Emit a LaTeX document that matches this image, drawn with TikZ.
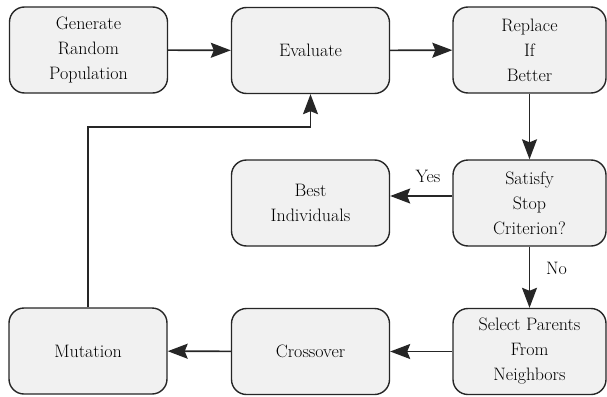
\documentclass[tikz,border=0pt]{standalone}
\usetikzlibrary{arrows.meta}
\definecolor{boxfill}{HTML}{F1F1F1}
\definecolor{boxline}{HTML}{262626}
\begin{document}
\begin{tikzpicture}[x=1pt,y=-1pt,
  box/.style={draw=boxline, fill=boxfill, line width=1.4pt, rounded corners=15pt,
    minimum width=158pt, minimum height=86pt, align=center,
    font=\fontsize{18}{25}\selectfont, inner sep=0pt},
  rbox/.style={box, minimum width=153pt},
  arr/.style={draw=boxline, line width=1.6pt, -{Stealth[length=20pt,width=15pt,inset=3pt]}},
  lbl/.style={font=\fontsize{18}{25}\selectfont}]
\useasboundingbox (0,0) rectangle (607,396);
\node[box] (gen) at (88.5,50) {Generate\\Random\\Population};
\node[box] (eval) at (310.5,50.5) {Evaluate};
\node[rbox] (rep) at (529.5,50) {Replace\\If\\Better};
\node[box] (best) at (310.5,203) {Best\\Individuals};
\node[rbox] (sat) at (529.5,203) {Satisfy\\Stop\\Criterion?};
\node[box] (mut) at (88,351) {Mutation};
\node[box] (cross) at (310.5,351.5) {Crossover};
\node[rbox] (sel) at (529.5,351.5) {Select Parents\\From\\Neighbors};
\coordinate (bend) at (310.5,127);
\draw[arr] (gen) -- (eval);
\draw[arr] (eval) -- (rep);
\draw[arr] (rep) -- (sat);
\draw[arr] ([yshift=7pt]sat.west) -- ([yshift=7pt]best.east);
\draw[arr] (sat) -- (sel);
\draw[arr] (sel) -- (cross);
\draw[arr] (cross) -- (mut);
\draw[arr] (mut.north) |- (bend) -- (eval.south);
\node[lbl] (yes) at (428,176) {Yes};
\node[lbl] (no) at (556.5,268) {No};
\end{tikzpicture}
\end{document}
